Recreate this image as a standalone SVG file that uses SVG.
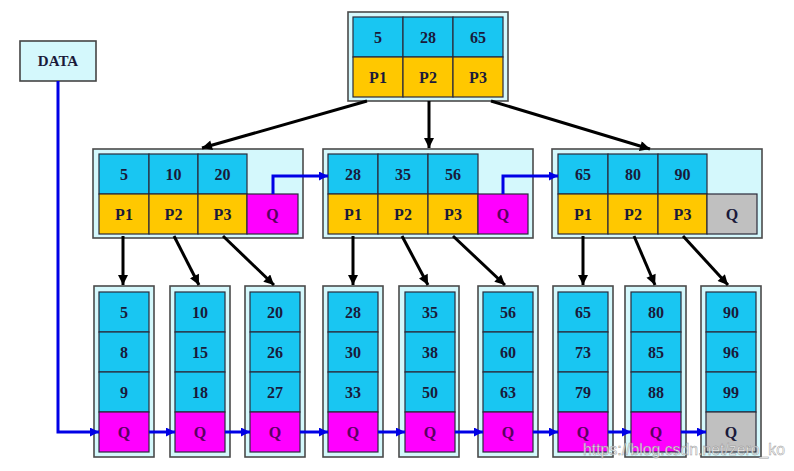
<svg xmlns="http://www.w3.org/2000/svg" width="794" height="471" viewBox="0 0 794 471">
<defs>
<style>
.outer{fill:#d4f8fc;stroke:#4a4a4a;stroke-width:1.6}
.k{fill:#19c6f2;stroke:#2a2a3a;stroke-width:1.2}
.p{fill:#ffc800;stroke:#2a2a3a;stroke-width:1.2}
.q{fill:#ff00ff;stroke:#2a2a3a;stroke-width:1.2}
.g{fill:#c0c0c0;stroke:#2a2a3a;stroke-width:1.2}
text{font-family:"Liberation Serif","Times New Roman",serif;font-weight:bold;font-size:16px;fill:#1a1a3a;text-anchor:middle}
text.qt{fill:#5a0060}
.blk{stroke:#000;stroke-width:3;fill:none;marker-end:url(#ab)}
.blu{stroke:#0000e6;stroke-width:3;fill:none;marker-end:url(#au)}
.wm{font-family:"Liberation Sans",Arial,sans-serif;font-weight:normal;font-size:16px;fill:#ffffff;stroke:#8a8a8a;stroke-width:0.5;text-anchor:start;opacity:0.85}
</style>
<marker id="ab" viewBox="0 0 10 10" refX="10" refY="5" markerWidth="11" markerHeight="10" markerUnits="userSpaceOnUse" orient="auto"><path d="M0,0 L10,5 L0,10 z" fill="#000"/></marker>
<marker id="au" viewBox="0 0 10 10" refX="10" refY="5" markerWidth="10" markerHeight="9" markerUnits="userSpaceOnUse" orient="auto"><path d="M0,0 L10,5 L0,10 z" fill="#0000e6"/></marker>
</defs>
<rect width="794" height="471" fill="#fff"/>

<g id="data">
<rect x="20" y="41" width="76" height="40" fill="#d4f8fc" stroke="#444" stroke-width="1.6"/>
<text x="58" y="66" style="font-size:15px">DATA</text>
</g>

<g id="root">
<rect class="outer" x="348" y="12" width="160" height="89"/>
<rect class="k" x="353" y="17" width="50" height="40"/><rect class="k" x="403" y="17" width="50" height="40"/><rect class="k" x="453" y="17" width="50" height="40"/>
<rect class="p" x="353" y="57" width="50" height="40"/><rect class="p" x="403" y="57" width="50" height="40"/><rect class="p" x="453" y="57" width="50" height="40"/>
<text x="378" y="43">5</text><text x="428" y="43">28</text><text x="478" y="43">65</text>
<text x="378" y="83">P1</text><text x="428" y="83">P2</text><text x="478" y="83">P3</text>
</g>

<g id="n1">
<rect class="outer" x="93" y="149" width="210" height="89"/>
<rect class="k" x="99" y="154" width="50" height="40"/><rect class="k" x="149" y="154" width="49" height="40"/><rect class="k" x="198" y="154" width="49" height="40"/>
<rect class="p" x="99" y="194" width="50" height="40"/><rect class="p" x="149" y="194" width="49" height="40"/><rect class="p" x="198" y="194" width="49" height="40"/>
<rect class="q" x="247" y="194" width="51" height="40"/>
<text x="124" y="180">5</text><text x="173.5" y="180">10</text><text x="222.5" y="180">20</text>
<text x="124" y="220">P1</text><text x="173.5" y="220">P2</text><text x="222.5" y="220">P3</text><text class="qt" x="272.5" y="220">Q</text>
</g>

<g id="n2">
<rect class="outer" x="323" y="149" width="210" height="89"/>
<rect class="k" x="328" y="154" width="50" height="40"/><rect class="k" x="378" y="154" width="50" height="40"/><rect class="k" x="428" y="154" width="50" height="40"/>
<rect class="p" x="328" y="194" width="50" height="40"/><rect class="p" x="378" y="194" width="50" height="40"/><rect class="p" x="428" y="194" width="50" height="40"/>
<rect class="q" x="478" y="194" width="50" height="40"/>
<text x="353" y="180">28</text><text x="403" y="180">35</text><text x="453" y="180">56</text>
<text x="353" y="220">P1</text><text x="403" y="220">P2</text><text x="453" y="220">P3</text><text class="qt" x="503" y="220">Q</text>
</g>

<g id="n3">
<rect class="outer" x="552" y="149" width="210" height="89"/>
<rect class="k" x="558" y="154" width="50" height="40"/><rect class="k" x="608" y="154" width="50" height="40"/><rect class="k" x="658" y="154" width="49" height="40"/>
<rect class="p" x="558" y="194" width="50" height="40"/><rect class="p" x="608" y="194" width="50" height="40"/><rect class="p" x="658" y="194" width="49" height="40"/>
<rect class="g" x="707" y="194" width="50" height="40"/>
<text x="583" y="180">65</text><text x="633" y="180">80</text><text x="682.5" y="180">90</text>
<text x="583" y="220">P1</text><text x="633" y="220">P2</text><text x="682.5" y="220">P3</text><text x="732" y="220">Q</text>
</g>

<g id="leaf1">
<rect class="outer" x="94" y="286" width="60" height="171"/>
<rect class="k" x="99" y="292" width="50" height="40"/><rect class="k" x="99" y="332" width="50" height="40"/><rect class="k" x="99" y="372" width="50" height="40"/><rect class="q" x="99" y="412" width="50" height="40"/>
<text x="124" y="318">5</text><text x="124" y="358">8</text><text x="124" y="398">9</text><text class="qt" x="124" y="438">Q</text>
</g>
<g id="leaf2">
<rect class="outer" x="170" y="286" width="60" height="171"/>
<rect class="k" x="175" y="292" width="50" height="40"/><rect class="k" x="175" y="332" width="50" height="40"/><rect class="k" x="175" y="372" width="50" height="40"/><rect class="q" x="175" y="412" width="50" height="40"/>
<text x="200" y="318">10</text><text x="200" y="358">15</text><text x="200" y="398">18</text><text class="qt" x="200" y="438">Q</text>
</g>
<g id="leaf3">
<rect class="outer" x="245" y="286" width="60" height="171"/>
<rect class="k" x="250" y="292" width="50" height="40"/><rect class="k" x="250" y="332" width="50" height="40"/><rect class="k" x="250" y="372" width="50" height="40"/><rect class="q" x="250" y="412" width="50" height="40"/>
<text x="275" y="318">20</text><text x="275" y="358">26</text><text x="275" y="398">27</text><text class="qt" x="275" y="438">Q</text>
</g>
<g id="leaf4">
<rect class="outer" x="323" y="286" width="60" height="171"/>
<rect class="k" x="328" y="292" width="50" height="40"/><rect class="k" x="328" y="332" width="50" height="40"/><rect class="k" x="328" y="372" width="50" height="40"/><rect class="q" x="328" y="412" width="50" height="40"/>
<text x="353" y="318">28</text><text x="353" y="358">30</text><text x="353" y="398">33</text><text class="qt" x="353" y="438">Q</text>
</g>
<g id="leaf5">
<rect class="outer" x="399" y="286" width="60" height="171"/>
<rect class="k" x="405" y="292" width="50" height="40"/><rect class="k" x="405" y="332" width="50" height="40"/><rect class="k" x="405" y="372" width="50" height="40"/><rect class="q" x="405" y="412" width="50" height="40"/>
<text x="430" y="318">35</text><text x="430" y="358">38</text><text x="430" y="398">50</text><text class="qt" x="430" y="438">Q</text>
</g>
<g id="leaf6">
<rect class="outer" x="478" y="286" width="60" height="171"/>
<rect class="k" x="483" y="292" width="50" height="40"/><rect class="k" x="483" y="332" width="50" height="40"/><rect class="k" x="483" y="372" width="50" height="40"/><rect class="q" x="483" y="412" width="50" height="40"/>
<text x="508" y="318">56</text><text x="508" y="358">60</text><text x="508" y="398">63</text><text class="qt" x="508" y="438">Q</text>
</g>
<g id="leaf7">
<rect class="outer" x="553" y="286" width="60" height="171"/>
<rect class="k" x="558" y="292" width="50" height="40"/><rect class="k" x="558" y="332" width="50" height="40"/><rect class="k" x="558" y="372" width="50" height="40"/><rect class="q" x="558" y="412" width="50" height="40"/>
<text x="583" y="318">65</text><text x="583" y="358">73</text><text x="583" y="398">79</text><text class="qt" x="583" y="438">Q</text>
</g>
<g id="leaf8">
<rect class="outer" x="625" y="286" width="61" height="171"/>
<rect class="k" x="631" y="292" width="50" height="40"/><rect class="k" x="631" y="332" width="50" height="40"/><rect class="k" x="631" y="372" width="50" height="40"/><rect class="q" x="631" y="412" width="50" height="40"/>
<text x="656" y="318">80</text><text x="656" y="358">85</text><text x="656" y="398">88</text><text class="qt" x="656" y="438">Q</text>
</g>
<g id="leaf9">
<rect class="outer" x="701" y="286" width="60" height="171"/>
<rect class="k" x="706" y="292" width="50" height="40"/><rect class="k" x="706" y="332" width="50" height="40"/><rect class="k" x="706" y="372" width="50" height="40"/><rect class="g" x="706" y="412" width="50" height="40"/>
<text x="731" y="318">90</text><text x="731" y="358">96</text><text x="731" y="398">99</text><text x="731" y="438">Q</text>
</g>

<g id="connectors">
<line class="blk" x1="367" y1="101" x2="202" y2="148"/>
<line class="blk" x1="429" y1="101" x2="429" y2="148"/>
<line class="blk" x1="491" y1="101" x2="650" y2="149"/>
<line class="blk" x1="123" y1="236" x2="123" y2="285"/>
<line class="blk" x1="174" y1="236" x2="199" y2="285"/>
<line class="blk" x1="223" y1="236" x2="274" y2="285"/>
<line class="blk" x1="353" y1="236" x2="353" y2="285"/>
<line class="blk" x1="402" y1="236" x2="428" y2="285"/>
<line class="blk" x1="453" y1="236" x2="505" y2="285"/>
<line class="blk" x1="583" y1="236" x2="583" y2="285"/>
<line class="blk" x1="634" y1="236" x2="655" y2="285"/>
<line class="blk" x1="683" y1="236" x2="728" y2="285"/>
<path class="blu" d="M273,194 V176 H328"/>
<path class="blu" d="M503,194 V176 H558"/>
<path class="blu" d="M58,81 V432 H99"/>
<line class="blu" x1="149" y1="432" x2="175" y2="432"/>
<line class="blu" x1="225" y1="432" x2="250" y2="432"/>
<line class="blu" x1="300" y1="432" x2="328" y2="432"/>
<line class="blu" x1="378" y1="432" x2="405" y2="432"/>
<line class="blu" x1="455" y1="432" x2="483" y2="432"/>
<line class="blu" x1="533" y1="432" x2="558" y2="432"/>
<line class="blu" x1="608" y1="432" x2="631" y2="432"/>
<line class="blu" x1="681" y1="432" x2="706" y2="432"/>
</g>

<text class="wm" x="583" y="455" textLength="202" lengthAdjust="spacingAndGlyphs">https://blog.csdn.net/zero_ko</text>
</svg>
